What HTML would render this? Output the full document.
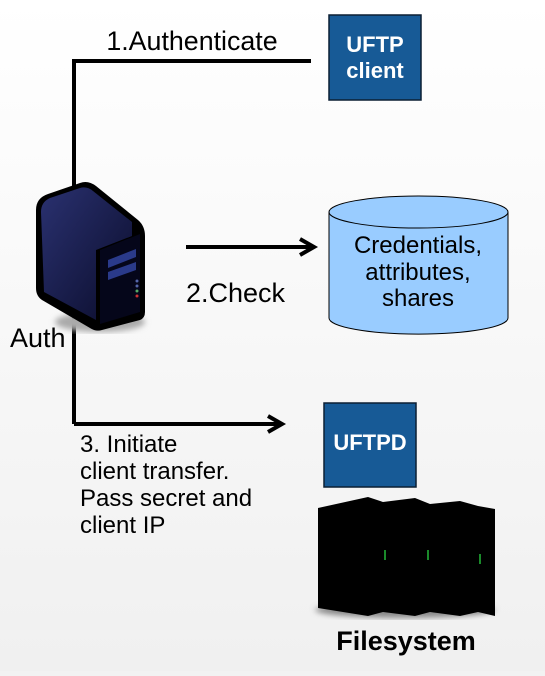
<!DOCTYPE html>
<html><head><style>
html,body{margin:0;padding:0;background:#f2f2f2}
body{width:545px;height:671px;overflow:hidden;background:linear-gradient(#ffffff,#f0f0f0);font-family:"Liberation Sans",sans-serif;}
</style></head><body>
<svg width="545" height="671" viewBox="0 0 545 671" xmlns="http://www.w3.org/2000/svg" font-family="Liberation Sans, sans-serif">
<defs>
<linearGradient id="srv" x1="0" y1="0" x2="1" y2="1"><stop offset="0" stop-color="#2a3170"/><stop offset="1" stop-color="#0a0c2a"/></linearGradient>
<filter id="bl"><feGaussianBlur stdDeviation="3"/></filter>
</defs>
<path d="M74 424 V61 H311" fill="none" stroke="#000" stroke-width="4"/>
<path d="M74 424 H280" stroke="#000" stroke-width="4"/>
<path d="M268 416 L282 424 L268 432" fill="none" stroke="#000" stroke-width="4"/>
<path d="M186 247 H312" stroke="#000" stroke-width="4"/>
<path d="M300 239 L314 247 L300 255" fill="none" stroke="#000" stroke-width="4"/>
<text x="192" y="50" font-size="26.8" text-anchor="middle">1.Authenticate</text>
<text x="186" y="302" font-size="27">2.Check</text>
<text x="10" y="347" font-size="27">Auth</text>
<text font-size="24"><tspan x="80" y="452">3. Initiate</tspan><tspan x="80" y="479">client transfer.</tspan><tspan x="80" y="506">Pass secret and</tspan><tspan x="80" y="533">client IP</tspan></text>
<rect x="329" y="15" width="92" height="85" fill="#175a96" stroke="#0b1f33" stroke-width="1.5"/>
<text x="375" y="52" fill="#fff" font-size="22" font-weight="bold" text-anchor="middle">UFTP</text>
<text x="375" y="78" fill="#fff" font-size="22" font-weight="bold" text-anchor="middle">client</text>
<path d="M329 212 V318 A89 16 0 0 0 508 318 V212" fill="#99ccff" stroke="#000" stroke-width="1"/>
<ellipse cx="418.5" cy="212" rx="89.5" ry="16" fill="#99ccff" stroke="#000" stroke-width="1"/>
<text x="418" y="253" font-size="24" text-anchor="middle">Credentials,</text>
<text x="418" y="280" font-size="24" text-anchor="middle">attributes,</text>
<text x="418" y="306" font-size="24" text-anchor="middle">shares</text>
<rect x="324" y="403" width="92" height="84" fill="#175a96" stroke="#0b1f33" stroke-width="1.5"/>
<text x="370" y="450" fill="#fff" font-size="22" font-weight="bold" text-anchor="middle">UFTPD</text>
<ellipse cx="405" cy="610" rx="90" ry="8" fill="#888" filter="url(#bl)"/>
<path d="M318 508 L368 497 L383 502 L415 498 L430 504 L460 501 L478 506 L495 509 L495 616 L478 612 L460 616 L430 612 L415 616 L383 612 L368 616 L318 608 Z" fill="#000"/>
<rect x="384" y="550" width="2" height="10" fill="#1a8a2a"/>
<rect x="427" y="550" width="2" height="10" fill="#1a8a2a"/>
<rect x="479" y="554" width="2" height="10" fill="#1a8a2a"/>
<text x="406" y="650" font-size="27" font-weight="bold" text-anchor="middle">Filesystem</text>
<ellipse cx="100" cy="322" rx="45" ry="10" fill="#aaa" filter="url(#bl)"/>
<path d="M36 210 Q36 198 48 194 L80 183 Q88 180 96 186 L138 220 Q145 226 145 236 L145 312 Q145 318 140 320 L102 330 Q96 332 90 328 L42 300 Q36 296 36 288 Z" fill="#000"/>
<path d="M41 212 Q41 202 50 198 L80 188 Q87 186 93 191 L132 222 L132 236 L96 250 L96 320 L44 292 Z" fill="url(#srv)"/>
<path d="M100 250 L140 234 L140 312 L100 324 Z" fill="#05061a"/>
<path d="M108 260 L136 249 L136 257 L108 268 Z" fill="#2a3a8a"/>
<path d="M108 272 L136 262 L136 270 L108 280 Z" fill="#2a3a8a"/>
<circle cx="137" cy="281" r="1.5" fill="#56a"/><circle cx="137" cy="286" r="1.5" fill="#56a"/><circle cx="137" cy="291" r="1.5" fill="#5a6"/><circle cx="137" cy="296" r="1.5" fill="#c33"/>
</svg>
</body></html>
